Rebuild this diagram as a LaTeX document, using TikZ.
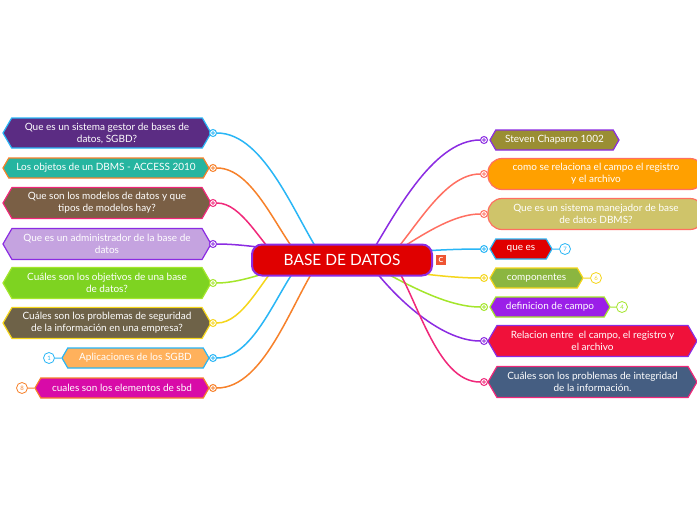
\documentclass[tikz,border=0pt]{standalone}
\usepackage{fontspec}
\setmainfont{Lato}
\usetikzlibrary{shapes.symbols, backgrounds}

\definecolor{skyline}{HTML}{29B6F6}
\definecolor{orangeline}{HTML}{F7812A}
\definecolor{pinkline}{HTML}{F0287A}
\definecolor{purpleline}{HTML}{8B2BE2}
\definecolor{limeline}{HTML}{A4E62B}
\definecolor{yellowline}{HTML}{F5D61B}
\definecolor{salmonline}{HTML}{FF6F61}
\definecolor{purplefill}{HTML}{5B2C83}
\definecolor{tealfill}{HTML}{26B5A0}
\definecolor{brownfill}{HTML}{7A5F45}
\definecolor{lilacfill}{HTML}{C5A3E0}
\definecolor{greenfill}{HTML}{7ED321}
\definecolor{olivefill}{HTML}{6E6248}
\definecolor{apricotfill}{HTML}{FFB15C}
\definecolor{magentafill}{HTML}{D80BA8}
\definecolor{mossfill}{HTML}{9A8E33}
\definecolor{amberfill}{HTML}{FFA000}
\definecolor{khakifill}{HTML}{CFC46A}
\definecolor{redfill}{HTML}{E00000}
\definecolor{leaffill}{HTML}{8BB640}
\definecolor{violetfill}{HTML}{9B1FE8}
\definecolor{crimsonfill}{HTML}{F0113A}
\definecolor{slatefill}{HTML}{455E82}
\definecolor{cmarkfill}{HTML}{EE5533}

\tikzset{
    rootbox/.style={rectangle, rounded corners=10pt, fill=redfill, draw=purpleline, line width=2pt,
        minimum width=180, minimum height=31, text=white, font=\fontsize{15.5}{17}\selectfont},
    chev/.style={shape=signal, signal to=west and east, signal pointer angle=120, line width=1.2pt,
        text=white, align=center, inner sep=2pt, font=\fontsize{10}{12}\selectfont},
    roundbox/.style={rectangle, rounded corners=14pt, line width=1.2pt,
        text=white, align=center, inner sep=2pt, font=\fontsize{10}{12}\selectfont},
    knob/.style={circle, draw=#1, fill=white, line width=1pt, minimum size=7pt, inner sep=0pt,
        path picture={\draw[#1, line width=0.8pt] (path picture bounding box.center) circle (1.4pt);}},
    badge/.style={circle, draw=#1, fill=white, text=#1, line width=0.8pt, minimum size=11pt,
        inner sep=0pt, font=\fontsize{6}{6}\selectfont},
    link/.style={draw=#1, line width=1.5pt, looseness=0.75},
    cbadge/.style={rectangle, fill=cmarkfill, text=white, minimum size=10pt, inner sep=0pt,
        font=\fontsize{7}{7}\selectfont\bfseries}
}

\begin{document}
\begin{tikzpicture}[x=1pt,y=1pt]
\useasboundingbox (0,0) rectangle (697,-520);

% central topic
\node[rootbox] (root) at (342,-260) {BASE DE DATOS};
\node[cbadge] (cmark) at (441,-260) {C};

% left side
\node[chev, fill=purplefill, draw=skyline, minimum width=208, minimum height=30] (gestor) at (107,-133) {Que es un sistema gestor de bases de\\datos, SGBD?};
\node[chev, fill=tealfill, draw=orangeline, minimum width=206, minimum height=20] (objetos) at (106,-168) {Los objetos de un DBMS - ACCESS 2010};
\node[chev, fill=brownfill, draw=pinkline, minimum width=208, minimum height=31] (modelos) at (107,-203) {Que son los modelos de datos y que\\tipos de modelos hay?};
\node[chev, fill=lilacfill, draw=purpleline, minimum width=208, minimum height=31] (admin) at (107,-244) {Que es un administrador de la base de\\datos};
\node[chev, fill=greenfill, draw=limeline, minimum width=208, minimum height=31] (objetivos) at (107,-283) {Cuáles son los objetivos de una base\\de datos?};
\node[chev, fill=olivefill, draw=yellowline, minimum width=208, minimum height=31] (seguridad) at (107,-323) {Cuáles son los problemas de seguridad\\de la información en una empresa?};
\node[chev, fill=apricotfill, draw=skyline, minimum width=147, minimum height=20] (aplic) at (135.5,-358) {Aplicaciones de los SGBD};
\node[chev, fill=magentafill, draw=orangeline, minimum width=174, minimum height=20] (elementos) at (122,-388) {cuales son los elementos de sbd};

\node[knob=skyline] (kgestor) at (213,-133) {};
\node[knob=orangeline] (kobjetos) at (213,-168) {};
\node[knob=pinkline] (kmodelos) at (213,-203) {};
\node[knob=purpleline] (kadmin) at (213,-244) {};
\node[knob=limeline] (kobjetivos) at (213,-283) {};
\node[knob=yellowline] (kseguridad) at (213,-323) {};
\node[knob=skyline] (kaplic) at (213,-358) {};
\node[knob=orangeline] (kelementos) at (213,-388) {};

\node[badge=skyline] (baplic) at (49,-358) {1};
\node[badge=orangeline] (belementos) at (22,-388) {8};

% right side
\node[chev, fill=mossfill, draw=purpleline, minimum width=129, minimum height=20] (steven) at (554.5,-140) {Steven Chaparro 1002};
\node[roundbox, fill=amberfill, draw=salmonline, minimum width=216, minimum height=31] (relaciona) at (596,-174) {como se relaciona el campo el registro\\y el archivo};
\node[roundbox, fill=khakifill, draw=salmonline, minimum width=216, minimum height=31] (manejador) at (596,-214) {Que es un sistema manejador de base\\de datos DBMS?};
\node[chev, fill=redfill, draw=skyline, minimum width=62, minimum height=20] (quees) at (521,-249) {que es};
\node[chev, fill=leaffill, draw=yellowline, minimum width=93, minimum height=20] (compo) at (536.5,-278) {componentes};
\node[chev, fill=violetfill, draw=limeline, minimum width=120, minimum height=20] (campo) at (550,-307) {definicion de campo};
\node[chev, fill=crimsonfill, draw=purpleline, minimum width=209, minimum height=31] (relacion) at (592.5,-341) {Relacion entre\ \ el campo, el registro y\\el archivo};
\node[chev, fill=slatefill, draw=pinkline, minimum width=209, minimum height=31] (integridad) at (592.5,-382) {Cuáles son los problemas de integridad\\de la información.};

\node[knob=purpleline] (ksteven) at (484,-140) {};
\node[knob=salmonline] (krelaciona) at (484,-174) {};
\node[knob=salmonline] (kmanejador) at (484,-214) {};
\node[knob=skyline] (kquees) at (484,-249) {};
\node[knob=yellowline] (kcompo) at (484,-278) {};
\node[knob=limeline] (kcampo) at (484,-307) {};
\node[knob=purpleline] (krelacion) at (484,-341) {};
\node[knob=pinkline] (kintegridad) at (484,-382) {};

\node[badge=skyline] (bquees) at (565,-249) {7};
\node[badge=yellowline] (bcompo) at (596,-278) {6};
\node[badge=limeline] (bcampo) at (622,-307) {4};

% connectors
\begin{scope}[on background layer]
    \fill[white] (0,0) rectangle (697,-520);
    \draw[link=skyline] (kgestor) to[out=0, in=125] ([xshift=-18]root.center);
    \draw[link=orangeline] (kobjetos) to[out=0, in=132] ([xshift=-40]root.center);
    \draw[link=pinkline] (kmodelos) to[out=0, in=140] ([xshift=-62]root.center);
    \draw[link=purpleline] (kadmin) to[out=0, in=172] (root.center);
    \draw[link=limeline] (kobjetivos) to[out=0, in=200] ([xshift=-40]root.center);
    \draw[link=yellowline] (kseguridad) to[out=0, in=222] ([xshift=-60]root.center);
    \draw[link=skyline] (kaplic) to[out=0, in=230] ([xshift=-40]root.center);
    \draw[link=orangeline] (kelementos) to[out=0, in=235] ([xshift=-22]root.center);

    \draw[link=purpleline] (ksteven) to[out=180, in=58] ([xshift=25]root.center);
    \draw[link=salmonline] (krelaciona) to[out=180, in=45] ([xshift=45]root.center);
    \draw[link=salmonline] (kmanejador) to[out=180, in=30] ([xshift=40]root.center);
    \draw[link=skyline] (kquees) to[out=180, in=10] (root.center);
    \draw[link=yellowline] (kcompo) to[out=180, in=-12] (root.center);
    \draw[link=limeline] (kcampo) to[out=180, in=-28] ([xshift=20]root.center);
    \draw[link=purpleline] (krelacion) to[out=180, in=-55] ([xshift=25]root.center);
    \draw[link=pinkline] (kintegridad) to[out=180, in=-55] ([xshift=50]root.center);

    \draw[link=skyline, line width=1pt] (baplic) -- (aplic);
    \draw[link=orangeline, line width=1pt] (belementos) -- (elementos);
    \draw[link=skyline, line width=1pt] (quees) -- (bquees);
    \draw[link=yellowline, line width=1pt] (compo) -- (bcompo);
    \draw[link=limeline, line width=1pt] (campo) -- (bcampo);
\end{scope}
\end{tikzpicture}
\end{document}
